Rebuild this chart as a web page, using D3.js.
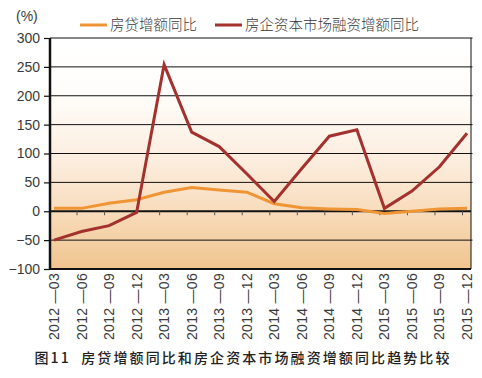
<!DOCTYPE html>
<html><head><meta charset="utf-8">
<script src="https://cdn.jsdelivr.net/npm/d3@7"></script>
<style>
html,body{margin:0;padding:0;background:#fff;}
svg{display:block;}
</style></head>
<body>
<svg id="c" width="482" height="378"></svg>
<script>
const categories = ["2012 —03","2012 —06","2012 —09","2012 —12","2013 —03","2013 —06","2013 —09","2013 —12","2014 —03","2014 —06","2014 —09","2014 —12","2015 —03","2015 —06","2015 —09","2015 —12"];
const mortgageGrowth = [5, 5, 14, 20, 33, 41, 37, 33, 13, 6, 4, 3, -4, 0, 4, 5];
const capitalMarketGrowth = [-50, -35, -25, -2, 254, 137, 112, 65, 17, 74, 130, 141, 5, 35, 77, 135];
const yTicks = [300, 250, 200, 150, 100, 50, 0, -50, -100];
const seriesNames = ["房贷增额同比", "房企资本市场融资增额同比"];
const seriesColors = ["#ef9535", "#a3312e"];
const unitLabel = "(%)";
const caption = "图11  房贷增额同比和房企资本市场融资增额同比趋势比较";

const svg = d3.select("#c");
const L = 50, R = 471, T = 38, B = 269;
const x = d3.scalePoint().domain(categories).range([54, 467]);
const y = d3.scaleLinear().domain([-100, 300]).range([B, T]);

const defs = svg.append("defs");
const g = defs.append("linearGradient").attr("id","bg").attr("x1",0).attr("y1",0).attr("x2",0).attr("y2",1);
g.append("stop").attr("offset","0%").attr("stop-color","#ffffff");
g.append("stop").attr("offset","25%").attr("stop-color","#fffdfa");
g.append("stop").attr("offset","55%").attr("stop-color","#fcecdc");
g.append("stop").attr("offset","75%").attr("stop-color","#f8dcbc");
g.append("stop").attr("offset","100%").attr("stop-color","#f0c48e");

svg.append("rect").attr("x", L).attr("y", T).attr("width", R - L).attr("height", B - T).attr("fill", "url(#bg)");

// gridlines
svg.append("g").selectAll("line").data(yTicks.filter(v => v !== 0 && v !== -100)).join("line")
  .attr("x1", L).attr("x2", R + 1.5).attr("y1", d => y(d)).attr("y2", d => y(d))
  .attr("stroke", "#111").attr("stroke-width", 1);

// right frame
svg.append("line").attr("x1", R).attr("x2", R).attr("y1", T).attr("y2", B).attr("stroke", "#111").attr("stroke-width", 1);
// bottom line
svg.append("line").attr("x1", L).attr("x2", R).attr("y1", B).attr("y2", B).attr("stroke", "#111").attr("stroke-width", 2);

// y axis
const yAxis = d3.axisLeft(y).tickValues(yTicks).tickSize(6).tickPadding(4)
  .tickFormat(d => d < 0 ? "−" + Math.abs(d) : d);
const ya = svg.append("g").attr("transform", `translate(${L},0)`).call(yAxis);
ya.select(".domain").remove();
ya.selectAll(".tick line").attr("stroke", "#111").attr("stroke-width", 1.2);
ya.selectAll(".tick text").attr("font-family", "Liberation Sans, Arial, sans-serif").attr("font-size", 14).attr("fill", "#3a3a3a");
svg.append("line").attr("x1", L).attr("x2", L).attr("y1", T).attr("y2", B + 1).attr("stroke", "#111").attr("stroke-width", 2.5);

// zero line
svg.append("line").attr("x1", L).attr("x2", R).attr("y1", y(0)).attr("y2", y(0)).attr("stroke", "#111").attr("stroke-width", 2);
// small ticks on zero line
svg.append("g").selectAll("line").data(categories.slice(1)).join("line")
  .attr("x1", d => x(d) - 4.5).attr("x2", d => x(d) - 4.5)
  .attr("y1", y(0)).attr("y2", y(0) + 4)
  .attr("stroke", "#555").attr("stroke-width", 1);

// x labels
svg.append("g").selectAll("text").data(categories).join("text")
  .attr("transform", d => `translate(${x(d) + 5},${B + 4}) rotate(-90)`)
  .attr("text-anchor", "end")
  .attr("font-family", "Liberation Sans, Arial, sans-serif").attr("font-size", 14)
  .attr("letter-spacing", 0.3)
  .attr("fill", "#3a3a3a").text(d => d);

// lines
const line = d3.line().x((d, i) => x(categories[i])).y(d => y(d));
[mortgageGrowth, capitalMarketGrowth].forEach((s, k) => {
  svg.append("path").datum(s).attr("d", line).attr("fill", "none")
    .attr("stroke", seriesColors[k]).attr("stroke-width", 3).attr("stroke-linejoin", "miter");
});

// unit label
svg.append("text").attr("x", 16).attr("y", 21).attr("font-family", "Liberation Sans, Arial, sans-serif")
  .attr("font-size", 14).attr("fill", "#3a3a3a").text(unitLabel);

// legend
const legX = [80, 215];
seriesNames.forEach((n, k) => {
  svg.append("line").attr("x1", legX[k]).attr("x2", legX[k] + 27).attr("y1", 25).attr("y2", 25)
    .attr("stroke", seriesColors[k]).attr("stroke-width", 3);
  svg.append("text").attr("x", legX[k] + 30).attr("y", 30)
    .attr("font-family", "Noto Sans CJK SC, sans-serif").attr("font-size", 14.5).attr("font-weight", 300)
    .attr("fill", "#3a3a3a").text(n);
});

// caption
svg.append("text").attr("x", 243).attr("y", 363).attr("text-anchor", "middle")
  .attr("font-family", "Noto Sans CJK SC, sans-serif").attr("font-size", 14).attr("font-weight", 500)
  .attr("letter-spacing", 2.1).attr("fill", "#222").style("white-space", "pre").text(caption);
</script>
</body></html>
